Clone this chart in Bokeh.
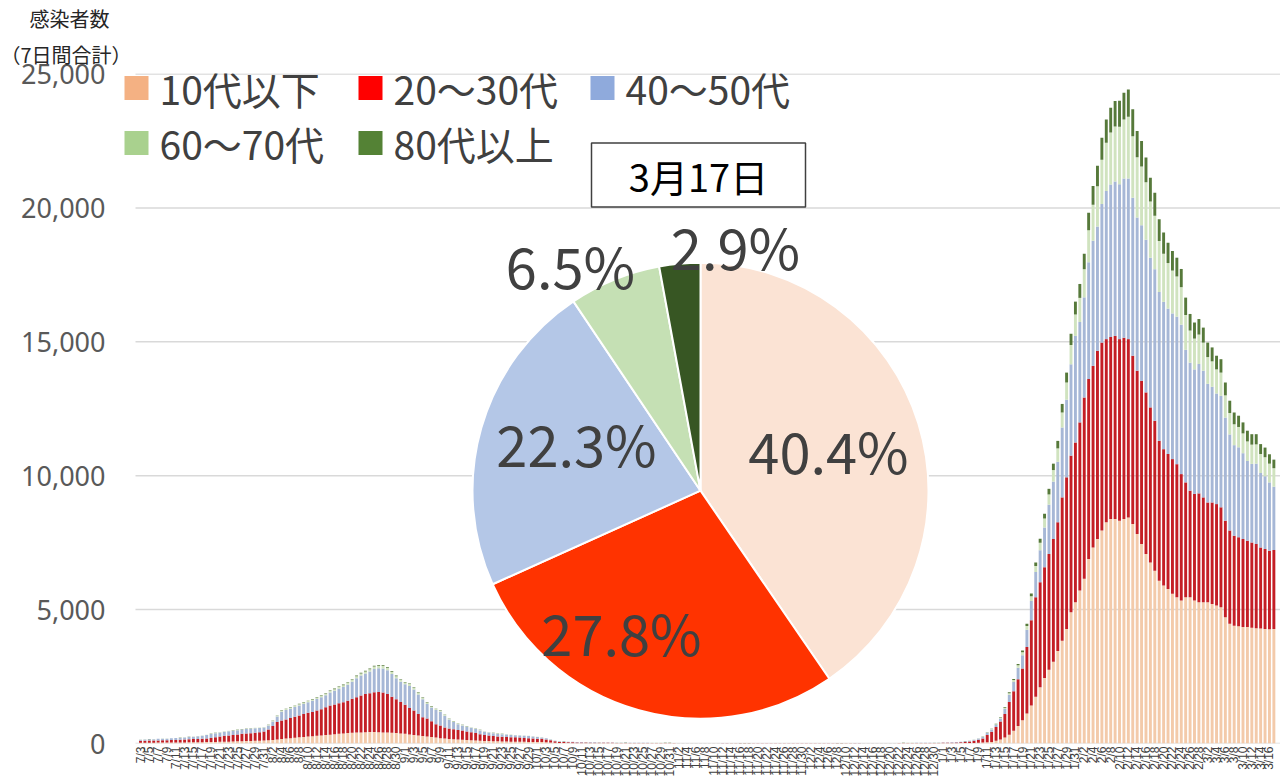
import math
import pandas as pd
from bokeh.plotting import figure
from bokeh.models import ColumnDataSource, Range1d, FixedTicker, NumeralTickFormatter, Title
from bokeh.core.properties import value
from bokeh.embed import file_html
from bokeh.resources import INLINE

# ---------------- data ----------------
dates = pd.date_range("2021-07-03", "2022-03-17", freq="D")
day_labels = [f"{d.month}/{d.day}" for d in dates]

series_names = ["10代以下", "20～30代", "40～50代", "60～70代", "80代以上"]

# 7-day totals per age group
under10 = [
    30, 30, 32, 32, 35, 35, 36, 38, 40, 40, 42, 44, 45, 48, 50, 52, 55, 58, 62, 66,
    70, 75, 80, 85, 90, 95, 100, 105, 110, 120, 130, 150, 170, 185, 200, 215, 230, 245, 260, 270,
    285, 300, 315, 330, 345, 360, 375, 390, 400, 410, 415, 420, 425, 425, 420, 415, 410, 400, 390, 375,
    360, 340, 320, 300, 280, 260, 240, 220, 200, 185, 170, 160, 150, 140, 130, 120, 110, 100, 95, 90,
    85, 80, 75, 72, 70, 68, 65, 62, 60, 58, 55, 52, 45, 35, 25, 20, 18, 16, 14, 12, 12,
    12, 11, 11, 10, 10, 9, 9, 8, 8, 8, 8, 7, 7, 7, 7, 6, 6, 6, 6, 6,
    6, 6, 6, 5, 5, 5, 5, 5, 5, 5, 5, 4, 4, 4, 4, 4, 4, 4, 4, 4,
    4, 3, 3, 3, 3, 3, 3, 3, 3, 3, 3, 3, 3, 3, 3, 4, 4, 4, 4, 4,
    4, 4, 4, 5, 5, 5, 5, 5, 5, 6, 6, 6, 6, 6, 7, 7, 7, 8, 8, 9,
    9, 9, 10, 11, 13, 15, 18, 20,
    20, 30, 40, 50, 60, 100, 150, 220, 330, 480, 650, 870, 1120, 1420, 1750, 2100, 2450, 2750, 3050, 3450,
    3840, 4280, 4900, 5270, 5710, 6150, 6890, 7320, 7640, 7950, 8260, 8380, 8380, 8320, 8380, 8440, 8200, 7820, 7450, 7080,
    6760, 6450, 6080, 5900, 5770, 5590, 5460, 5340, 5460, 5460, 5340, 5270, 5270, 5270, 5210, 5150, 5090, 4710, 4470, 4400,
    4380, 4350, 4350, 4320, 4300, 4290, 4280, 4270, 4280,
]
age20_30 = [
    70, 75, 78, 78, 80, 85, 89, 92, 95, 100, 108, 116, 120, 122, 125, 133, 155, 172, 198, 224,
    230, 245, 260, 275, 280, 285, 300, 315, 340, 400, 520, 650, 690, 715, 750, 785, 820, 855, 890, 910,
    945, 980, 1035, 1090, 1115, 1140, 1165, 1210, 1270, 1320, 1375, 1430, 1455, 1485, 1500, 1485, 1440, 1350, 1260, 1175,
    1090, 990, 910, 800, 700, 670, 590, 500, 470, 415, 390, 370, 350, 345, 320, 300, 280, 250, 225, 210,
    195, 180, 175, 168, 165, 167, 155, 148, 140, 132, 125, 123, 105, 85, 55, 40, 37, 34, 31, 28, 28,
    22, 20, 19, 18, 16, 16, 15, 14, 14, 13, 12, 12, 12, 11, 10, 10, 10, 10, 9, 9,
    9, 8, 8, 8, 8, 8, 7, 7, 7, 7, 7, 7, 7, 6, 6, 6, 6, 6, 5, 5,
    5, 5, 5, 5, 5, 5, 5, 5, 5, 5, 5, 5, 5, 5, 5, 5, 5, 6, 6, 6,
    6, 7, 7, 7, 7, 7, 8, 8, 8, 8, 8, 9, 9, 10, 10, 10, 11, 11, 12, 13,
    14, 15, 17, 20, 25, 31, 42, 56,
    80, 110, 150, 270, 380, 520, 670, 880, 1220, 1470, 1750, 1930, 2480, 3180, 3710, 3920, 4130, 4330, 4590, 4810,
    5350, 5660, 5850, 5970, 6280, 6770, 6720, 6780, 7020, 7020, 6840, 6800, 6840, 6780, 6770, 6660, 6280, 6100, 6090, 6030,
    5790, 5600, 5220, 5090, 5040, 5030, 4970, 4720, 4290, 3980, 3980, 4070, 3920, 3730, 3790, 3790, 3730, 3610, 3480, 3360,
    3320, 3290, 3220, 3190, 3150, 3030, 2980, 2930, 2950,
]
age40_50 = [
    44, 49, 48, 53, 58, 58, 57, 62, 66, 70, 75, 79, 84, 99, 113, 131, 145, 154, 153, 151,
    161, 160, 159, 159, 167, 167, 166, 156, 145, 152, 175, 208, 321, 348, 346, 363, 371, 379, 386, 413,
    431, 448, 455, 481, 507, 545, 572, 598, 634, 709, 745, 761, 808, 874, 893, 903, 886, 842, 789, 754,
    758, 821, 786, 734, 671, 549, 514, 528, 511, 437, 333, 277, 216, 187, 174, 166, 147, 140, 121, 113,
    104, 95, 95, 97, 87, 72, 78, 78, 78, 69, 61, 51, 42, 33, 26, 26, 22, 17, 17, 17, 17,
    15, 14, 13, 12, 12, 11, 10, 10, 9, 9, 9, 8, 8, 7, 7, 7, 6, 6, 6, 6,
    5, 5, 5, 5, 4, 4, 4, 4, 4, 4, 4, 4, 4, 4, 4, 3, 3, 3, 3, 3,
    3, 3, 3, 3, 3, 3, 3, 3, 3, 3, 3, 3, 3, 3, 3, 3, 3, 3, 3, 4,
    4, 4, 4, 4, 4, 5, 5, 5, 5, 5, 5, 5, 6, 6, 6, 7, 7, 8, 8, 8,
    9, 10, 10, 12, 14, 17, 21, 28,
    42, 47, 55, 77, 80, 78, 110, 190, 275, 350, 430, 500, 650, 720, 940, 1200, 1490, 1840, 2140, 2260,
    2610, 2900, 3410, 3980, 3750, 3740, 4360, 4670, 4650, 5180, 5530, 5690, 5770, 5780, 5950, 6000, 5900, 5720, 5810, 5700,
    5590, 5660, 5560, 5500, 5430, 5440, 5510, 5580, 4950, 4780, 4650, 4830, 4730, 4430, 4320, 4130, 4160, 3850, 3590, 3380,
    3360, 3200, 2980, 2930, 3000, 2780, 2720, 2550, 2360,
]
age60_70 = [
    4, 4, 5, 5, 5, 5, 6, 6, 6, 7, 7, 8, 8, 8, 9, 10, 11, 12, 13, 14,
    14, 15, 16, 16, 17, 17, 18, 18, 19, 21, 26, 32, 37, 39, 40, 43, 44, 46, 48, 50,
    52, 54, 56, 59, 62, 64, 66, 69, 72, 76, 79, 82, 84, 87, 88, 88, 86, 81, 76, 72,
    69, 67, 63, 57, 52, 46, 42, 39, 37, 32, 28, 25, 22, 21, 20, 18, 17, 15, 14, 13,
    12, 11, 11, 10, 10, 10, 9, 9, 9, 8, 7, 7, 6, 5, 3, 3, 2, 2, 2, 2, 2,
    4, 3, 3, 3, 3, 3, 3, 3, 3, 2, 2, 2, 2, 2, 2, 2, 2, 2, 2, 2,
    2, 2, 2, 2, 2, 2, 2, 2, 1, 1, 1, 1, 1, 1, 1, 1, 1, 1, 1, 1,
    1, 1, 1, 1, 1, 1, 1, 1, 1, 1, 1, 1, 1, 1, 1, 1, 1, 1, 1, 1,
    1, 1, 1, 1, 1, 1, 1, 1, 2, 2, 2, 2, 2, 2, 2, 2, 2, 2, 3, 3,
    3, 3, 4, 4, 4, 5, 6, 7,
    5, 8, 10, 15, 20, 25, 35, 40, 55, 70, 90, 110, 140, 180, 230, 280, 330, 380, 430, 500,
    560, 640, 720, 800, 900, 1050, 1200, 1350, 1500, 1650, 1800, 1950, 2050, 2150, 2200, 2300, 2300, 2250, 2200, 2150,
    2100, 2000, 1900, 1800, 1700, 1600, 1500, 1400, 1300, 1200, 1150, 1100, 1050, 1000, 950, 900, 870, 830, 800, 780,
    760, 740, 730, 720, 720, 710, 710, 700, 690,
]
age80_up = [
    2, 2, 2, 2, 2, 2, 2, 2, 3, 3, 3, 3, 3, 3, 3, 4, 4, 4, 4, 5,
    5, 5, 5, 5, 6, 6, 6, 6, 6, 7, 9, 10, 12, 13, 14, 14, 15, 15, 16, 17,
    17, 18, 19, 20, 21, 21, 22, 23, 24, 25, 26, 27, 28, 29, 29, 29, 28, 27, 25, 24,
    23, 22, 21, 19, 17, 15, 14, 13, 12, 11, 9, 8, 7, 7, 6, 6, 6, 5, 5, 4,
    4, 4, 4, 3, 3, 3, 3, 3, 3, 3, 2, 2, 2, 2, 1, 1, 1, 1, 1, 1, 1,
    2, 2, 2, 2, 1, 1, 1, 1, 1, 1, 1, 1, 1, 1, 1, 1, 1, 1, 1, 1,
    1, 1, 1, 1, 1, 1, 1, 1, 1, 1, 1, 1, 1, 1, 1, 1, 1, 1, 1, 1,
    1, 1, 1, 1, 0, 0, 0, 0, 0, 0, 0, 0, 1, 1, 1, 1, 1, 1, 1, 1,
    1, 1, 1, 1, 1, 1, 1, 1, 1, 1, 1, 1, 1, 1, 1, 1, 1, 1, 1, 1,
    1, 1, 1, 1, 2, 2, 3, 4,
    3, 5, 5, 8, 10, 12, 15, 20, 30, 40, 50, 60, 80, 100, 130, 150, 180, 210, 240, 280,
    320, 370, 420, 480, 520, 580, 650, 700, 760, 820, 870, 920, 950, 970, 1000, 1020, 1000, 980, 950, 920,
    890, 860, 820, 790, 760, 730, 700, 680, 650, 620, 600, 580, 560, 540, 520, 510, 500, 480, 460, 440,
    420, 410, 400, 390, 380, 370, 360, 350, 320,
]

pie_date = "3月17日"
pie_shares = [40.4, 27.8, 22.3, 6.5, 2.9]
pie_labels = ["40.4%", "27.8%", "22.3%", "6.5%", "2.9%"]

y_ticks = [0, 5000, 10000, 15000, 20000, 25000]
y_title_1 = "感染者数"
y_title_2 = "（7日間合計）"

n = len(day_labels)
for s in (under10, age20_30, age40_50, age60_70, age80_up):
    assert len(s) == n, (len(s), n)

# ---------------- styles / layout ----------------
bar_colors = ["#F3CAAA", "#C41E25", "#A6B7D6", "#D0E3BF", "#56793A"]
legend_colors = ["#F4B183", "#FF0000", "#8FAADC", "#A9D18E", "#548235"]
pie_colors = ["#FBE3D4", "#FF3300", "#B4C7E7", "#C5E0B4", "#375623"]

W, H = 1280, 780
FRAME_L, FRAME_T, FRAME_B, FRAME_R = 118, 73, 743, 1280   # screen px
GRID_L = 135
DAY0_X, PX_PER_DAY = 140.0, 4.41
Y_PER_PX = 25000.0 / (FRAME_B - FRAME_T)

def dx(sx):
    return (sx - DAY0_X) / PX_PER_DAY

def dy(sy):
    return (FRAME_B - sy) * Y_PER_PX

CJK = "Noto Sans CJK JP"
TXT = "#404040"

p = figure(width=W, height=H, output_backend="svg", toolbar_location=None,
           x_range=Range1d(dx(FRAME_L), dx(FRAME_R)), y_range=Range1d(0, dy(FRAME_T - 0.5)),
           min_border_left=FRAME_L, min_border_top=FRAME_T,
           min_border_bottom=H - FRAME_B, min_border_right=0)
p.outline_line_color = None
p.background_fill_color = "white"
p.border_fill_color = "white"

# y-axis title (two lines above the frame)
p.add_layout(Title(text=y_title_2, align="left", offset=0 - FRAME_L, standoff=10,
                   text_font=CJK, text_font_size="20px", text_font_style="normal",
                   text_color="#262626"), "above")
p.add_layout(Title(text=y_title_1, align="left", offset=29 - FRAME_L, standoff=0,
                   text_font=CJK, text_font_size="20px", text_font_style="normal",
                   text_color="#262626"), "above")

# horizontal gridlines (from the tick list)
p.xgrid.visible = False
p.ygrid.visible = False
p.segment(x0=[dx(GRID_L)] * len(y_ticks), x1=[dx(FRAME_R)] * len(y_ticks),
          y0=y_ticks, y1=y_ticks, line_color="#D9D9D9", line_width=1.5)

# bars
src = ColumnDataSource(dict(day=list(range(n)), u10=under10, a2030=age20_30,
                            a4050=age40_50, a6070=age60_70, a80=age80_up))
p.vbar_stack(["u10", "a2030", "a4050", "a6070", "a80"], x="day", width=0.66,
             color=bar_colors, line_color=None, source=src)

# axes
p.yaxis.ticker = FixedTicker(ticks=y_ticks)
p.yaxis.formatter = NumeralTickFormatter(format="0,0")
p.yaxis.axis_line_color = None
p.yaxis.major_tick_line_color = None
p.yaxis.minor_tick_line_color = None
p.yaxis.major_tick_out = 0
p.yaxis.major_tick_in = 0
p.yaxis.major_label_standoff = 13
p.yaxis.major_label_text_font = "Noto Sans"
p.yaxis.major_label_text_font_size = "27px"
p.yaxis.major_label_text_color = "#595959"

p.xaxis.ticker = FixedTicker(ticks=list(range(0, n, 2)))
p.xaxis.major_label_overrides = {i: day_labels[i] for i in range(0, n, 2)}
p.xaxis.major_label_orientation = math.pi / 2
p.xaxis.axis_line_color = None
p.xaxis.major_tick_line_color = None
p.xaxis.minor_tick_line_color = None
p.xaxis.major_tick_out = 0
p.xaxis.major_tick_in = 0
p.xaxis.major_label_standoff = 3
p.xaxis.major_label_text_font = "Liberation Sans"
p.xaxis.major_label_text_font_size = "12px"
p.xaxis.major_label_text_color = "#404040"

# legend (manual)
leg_pos = [(136, 87), (370, 87), (602, 87), (136, 142), (370, 142)]
p.scatter([dx(x) for x, _ in leg_pos], [dy(y) for _, y in leg_pos], marker="square", size=24,
          color=legend_colors, line_color=None)
p.text([dx(x + 23) for x, _ in leg_pos], [dy(y) for _, y in leg_pos], text=series_names,
       text_font=value(CJK), text_font_size="39px", text_color=TXT,
       text_baseline="middle", text_align="left")

# pie chart
cx, cy, R = 700, 490, 228
total = sum(pie_shares)
starts, ends = [], []
cum = 0.0
for s in pie_shares:
    starts.append(math.pi / 2 - 2 * math.pi * cum / total)
    cum += s
    ends.append(math.pi / 2 - 2 * math.pi * cum / total)
p.wedge(x=[dx(cx)] * 5, y=[dy(cy)] * 5, radius=R, radius_units="screen",
        start_angle=starts, end_angle=ends, direction="clock",
        fill_color=pie_colors, line_color="white", line_width=2)

lab_pos = [(828, 449), (621, 631), (576, 442), (570, 264), (735, 245)]
p.text([dx(x) for x, _ in lab_pos], [dy(y) for _, y in lab_pos], text=pie_labels,
       text_font=value(CJK), text_font_size="56px", text_color=TXT,
       text_align="center", text_baseline="middle")

# date box
p.rect(x=[dx(698)], y=[dy(174)], width=214, height=64, width_units="screen", height_units="screen",
       fill_color="white", line_color="#404040", line_width=1.5)
p.text([dx(698)], [dy(175)], text=[pie_date], text_font=value(CJK), text_font_size="38px",
       text_color="black", text_align="center", text_baseline="middle")

open("out.html", "w").write(file_html(p, INLINE))
